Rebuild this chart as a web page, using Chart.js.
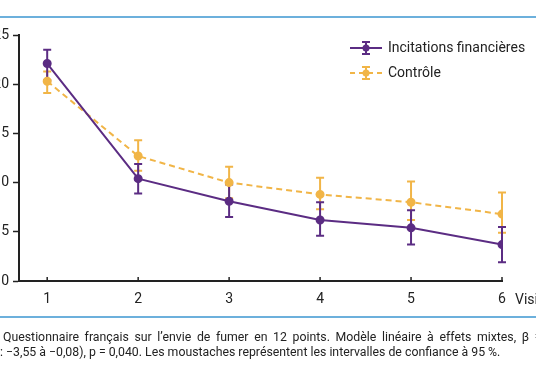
<!DOCTYPE html>
<html>
<head>
<meta charset="utf-8">
<script src="https://cdn.jsdelivr.net/npm/chart.js@4"></script>
<style>
    body { margin: 0; background: #fff; width: 536px; height: 386px; overflow: hidden; position: relative; font-family: Roboto, sans-serif; }
    .rule { position: absolute; left: 0; width: 536px; height: 2px; background: #6cb0dc; }
    #chartBox { position: absolute; left: 0; top: 0; width: 536px; height: 320px; }
    .caption { position: absolute; white-space: nowrap; font-size: 12.3px; color: #222; line-height: 15px; }
</style>
</head>
<body>
<div class="rule" style="top:16px"></div>
<div id="chartBox"><canvas id="craveChart" width="536" height="320"></canvas></div>
<div class="rule" style="top:316px"></div>
<div class="caption" style="left:3px; top:330px; word-spacing:2.6px">Questionnaire français sur l’envie de fumer en 12 points. Modèle linéaire à effets mixtes, β = −1,82</div>
<div class="caption" style="left:-9px; top:345px">%: −3,55 à −0,08), p = 0,040. Les moustaches représentent les intervalles de confiance à 95 %.</div>

<script>
const visits = [1, 2, 3, 4, 5, 6];
const xTickLabels = ['1', '2', '3', '4', '5', '6'];
const yTickValues = [0, 5, 10, 15, 20, 25];

// Incitations financières
const incentiveMean = [22.1, 10.4, 8.1, 6.2, 5.4, 3.7];
const incentiveLow  = [20.4, 8.9, 6.5, 4.6, 3.7, 1.9];
const incentiveHigh = [23.5, 11.9, 9.8, 8.0, 7.2, 5.5];

// Contrôle
const controlMean = [20.3, 12.7, 10.0, 8.8, 8.0, 6.8];
const controlLow  = [19.1, 11.2, 8.4, 7.3, 6.2, 4.9];
const controlHigh = [21.3, 14.3, 11.6, 10.5, 10.1, 9.0];

const purple = '#5b2c83';
const orange = '#f1b547';

// Error bars drawn from the CI arrays via the chart's y scale
const errorBars = {
    id: 'errorBars',
    beforeDatasetsDraw(chart) {
        const ctx = chart.ctx;
        const yScale = chart.scales.y;
        const sets = [
            { idx: 1, low: controlLow, high: controlHigh, color: orange },
            { idx: 0, low: incentiveLow, high: incentiveHigh, color: purple }
        ];
        ctx.save();
        sets.forEach(s => {
            const meta = chart.getDatasetMeta(s.idx);
            ctx.strokeStyle = s.color;
            ctx.lineWidth = 2;
            meta.data.forEach((pt, i) => {
                const yTop = yScale.getPixelForValue(s.high[i]);
                const yBot = yScale.getPixelForValue(s.low[i]);
                ctx.beginPath();
                ctx.moveTo(pt.x, yTop);
                ctx.lineTo(pt.x, yBot);
                ctx.moveTo(pt.x - 4, yTop);
                ctx.lineTo(pt.x + 4, yTop);
                ctx.moveTo(pt.x - 4, yBot);
                ctx.lineTo(pt.x + 4, yBot);
                ctx.stroke();
            });
        });
        ctx.restore();
    },
    afterDraw(chart) {
        const ctx = chart.ctx;
        const xScale = chart.scales.x;
        const area = chart.chartArea;
        ctx.save();
        // small inward ticks on the x axis
        ctx.strokeStyle = '#222';
        ctx.lineWidth = 1.5;
        visits.forEach(v => {
            const x = xScale.getPixelForValue(v);
            ctx.beginPath();
            ctx.moveTo(x, area.bottom);
            ctx.lineTo(x, area.bottom - 4);
            ctx.stroke();
        });
        // axis title after the last tick
        ctx.fillStyle = '#222';
        ctx.font = '14px Roboto';
        ctx.textBaseline = 'middle';
        ctx.fillText('Visites', area.right + 13, 300);

        // legend
        const items = [
            { label: 'Incitations financières', color: purple, dash: [], y: 48 },
            { label: 'Contrôle', color: orange, dash: [5, 4], y: 73 }
        ];
        items.forEach(it => {
            ctx.strokeStyle = it.color;
            ctx.fillStyle = it.color;
            ctx.lineWidth = 2;
            ctx.setLineDash(it.dash);
            ctx.beginPath();
            ctx.moveTo(350, it.y);
            ctx.lineTo(382, it.y);
            ctx.stroke();
            ctx.setLineDash([]);
            ctx.beginPath();
            ctx.moveTo(366, it.y - 6);
            ctx.lineTo(366, it.y + 6);
            ctx.moveTo(362, it.y - 6);
            ctx.lineTo(370, it.y - 6);
            ctx.moveTo(362, it.y + 6);
            ctx.lineTo(370, it.y + 6);
            ctx.stroke();
            ctx.beginPath();
            ctx.arc(366, it.y, 3.5, 0, Math.PI * 2);
            ctx.fill();
            ctx.fillStyle = '#222';
            ctx.fillText(it.label, 388, it.y);
        });
        ctx.restore();
    }
};

const ctx = document.getElementById('craveChart').getContext('2d');
new Chart(ctx, {
    type: 'line',
    data: {
        datasets: [{
            label: 'Incitations financières',
            data: visits.map((v, i) => ({ x: v, y: incentiveMean[i] })),
            borderColor: purple,
            backgroundColor: purple,
            borderWidth: 2,
            pointRadius: 3.5,
            pointHoverRadius: 3.5,
            tension: 0
        }, {
            label: 'Contrôle',
            data: visits.map((v, i) => ({ x: v, y: controlMean[i] })),
            borderColor: orange,
            backgroundColor: orange,
            borderWidth: 2,
            borderDash: [6, 4],
            pointRadius: 3.5,
            pointHoverRadius: 3.5,
            tension: 0
        }]
    },
    options: {
        responsive: false,
        animation: false,
        layout: { padding: { top: 35, right: 34, bottom: 14, left: 0 } },
        plugins: { legend: { display: false }, tooltip: { enabled: false } },
        scales: {
            x: {
                type: 'linear',
                min: 0.69,
                max: 6,
                afterBuildTicks: axis => { axis.ticks = visits.map(v => ({ value: v })); },
                afterFit: axis => { axis.height = 25; },
                ticks: {
                    callback: (val, i) => xTickLabels[i],
                    color: '#222',
                    font: { family: 'Roboto', size: 14 },
                    padding: 10,
                    maxRotation: 0
                },
                grid: { display: true, drawOnChartArea: false, drawTicks: false },
                border: { color: '#222', width: 2 }
            },
            y: {
                min: 0,
                max: 25,
                afterBuildTicks: axis => { axis.ticks = yTickValues.map(v => ({ value: v })); },
                afterFit: axis => { axis.width = 19; },
                ticks: {
                    color: '#222',
                    font: { family: 'Roboto', size: 14 },
                    padding: 4
                },
                grid: { drawOnChartArea: false, drawTicks: true, tickLength: 6, tickColor: '#222', tickWidth: 1.5 },
                border: { color: '#222', width: 2 }
            }
        }
    },
    plugins: [errorBars]
});
</script>
</body>
</html>
